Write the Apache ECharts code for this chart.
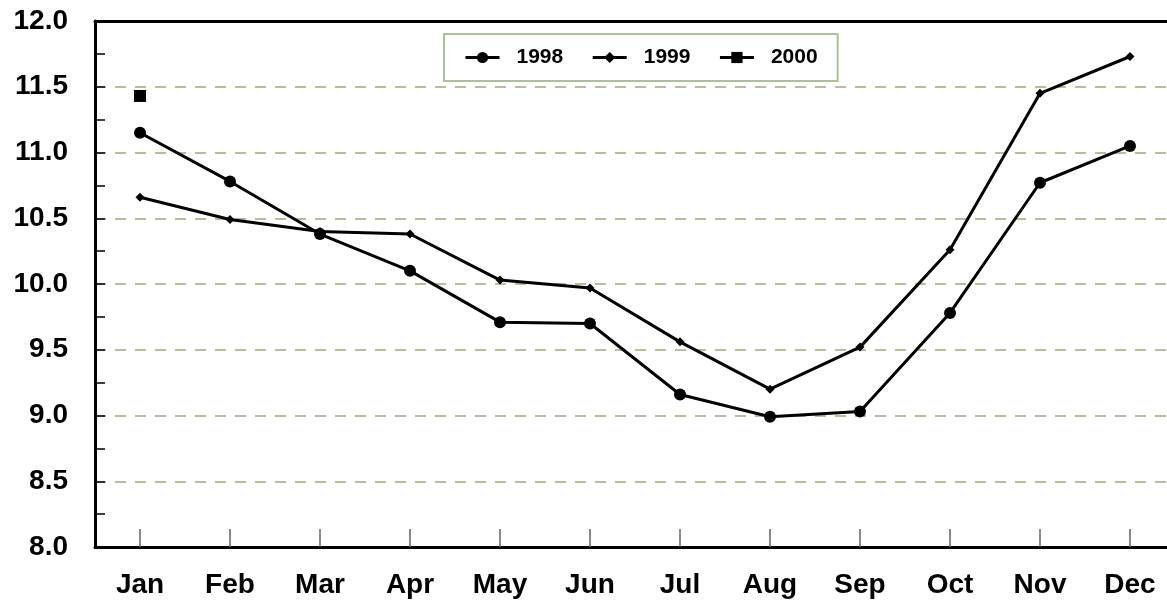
<!DOCTYPE html>
<html>
<head>
<meta charset="utf-8">
<style>
  html, body { margin: 0; padding: 0; background: #fff; overflow: hidden; }
  #chart { width: 1175px; height: 605px; }
</style>
<script src="https://cdn.jsdelivr.net/npm/echarts@6/dist/echarts.min.js"></script>
</head>
<body>
<div id="chart"></div>
<script>
const months = ["Jan", "Feb", "Mar", "Apr", "May", "Jun", "Jul", "Aug", "Sep", "Oct", "Nov", "Dec"];
const y1998 = [11.15, 10.78, 10.38, 10.10, 9.71, 9.70, 9.16, 8.99, 9.03, 9.78, 10.77, 11.05];
const y1999 = [10.66, 10.49, 10.40, 10.38, 10.03, 9.97, 9.56, 9.20, 9.52, 10.26, 11.45, 11.73];
const y2000 = [11.43, null, null, null, null, null, null, null, null, null, null, null];

const font = "Liberation Sans, Arial, sans-serif";

const chart = echarts.init(document.getElementById("chart"), null, { renderer: "canvas" });

// one line series per year
const lineSeries = (name, data, symbol, size) => ({
  name: name,
  type: "line",
  data: data,
  symbol: symbol,
  symbolSize: size,
  showAllSymbol: true,
  connectNulls: false,
  lineStyle: { color: "#000", width: 3 },
  itemStyle: { color: "#000", borderWidth: 0 },
  emphasis: { disabled: true },
  animation: false,
  z: 5,
});

chart.setOption({
  backgroundColor: "#fff",
  animation: false,
  // the plot runs a few pixels past the right edge of the window
  grid: {
    left: 95,
    top: 21,
    right: 0,
    bottom: 58,
    show: false,
  },
  legend: {
    left: 444,
    top: 34,
    padding: [13, 20],
    itemWidth: 34,
    itemHeight: 14,
    itemGap: 28,
    borderColor: "#a9c29a",
    borderWidth: 2,
    backgroundColor: "#fff",
    lineStyle: { width: 3 },
    textStyle: { color: "#000", fontSize: 21, fontWeight: "bold", fontFamily: font, padding: [0, 0, 0, 12] },
    data: ["1998", "1999", "2000"],
  },
  xAxis: [
    {
      type: "category",
      data: months,
      boundaryGap: true,
      axisLine: { lineStyle: { color: "#000", width: 3 } },
      axisTick: {
        show: true,
        inside: true,
        alignWithLabel: true,
        length: 18,
        lineStyle: { color: "#666", width: 1.5 },
      },
      axisLabel: { color: "#000", fontSize: 28, fontWeight: "bold", fontFamily: font, margin: 24 },
      splitLine: { show: false },
      z: 3,
    },
    {
      // top frame line
      type: "category",
      data: months,
      position: "top",
      axisLine: { lineStyle: { color: "#000", width: 3 } },
      axisTick: { show: false },
      axisLabel: { show: false },
      splitLine: { show: false },
      z: 3,
    },
  ],
  yAxis: {
    type: "value",
    min: 8,
    max: 12,
    interval: 0.5,
    axisLine: { show: true, lineStyle: { color: "#000", width: 3 } },
    axisTick: { show: true, inside: true, length: 10, lineStyle: { color: "#000", width: 1.5 } },
    minorTick: { show: true, splitNumber: 2, length: 10, lineStyle: { color: "#000", width: 1.5 } },
    axisLabel: {
      color: "#000",
      fontSize: 28,
      fontWeight: "bold",
      fontFamily: font,
      margin: 27,
      formatter: (v) => v.toFixed(1),
    },
    splitLine: {
      show: true,
      lineStyle: { color: "#a6a67e", width: 1.5, type: [11, 9] },
    },
    z: 3,
  },
  series: [
    lineSeries("1998", y1998, "circle", 12),
    lineSeries("1999", y1999, "diamond", 9),
    lineSeries("2000", y2000, "rect", 12),
  ],
});
</script>
</body>
</html>
